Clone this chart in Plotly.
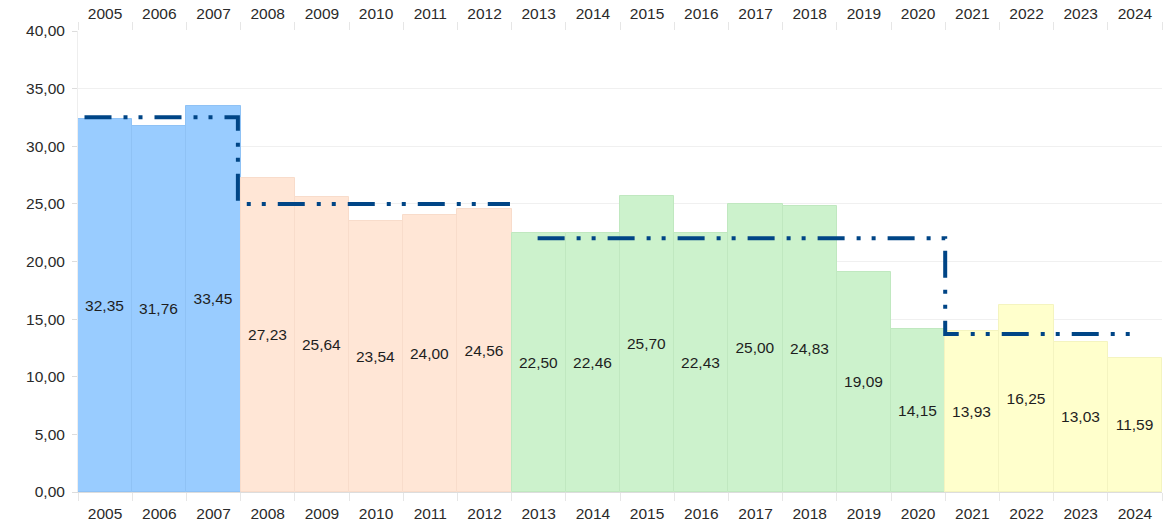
import plotly.graph_objects as go

years = [str(y) for y in range(2005, 2025)]
values = [32.35, 31.76, 33.45, 27.23, 25.64, 23.54, 24.00, 24.56,
          22.50, 22.46, 25.70, 22.43, 25.00, 24.83, 19.09, 14.15,
          13.93, 16.25, 13.03, 11.59]
# period groups (start index, end index inclusive) and colours
groups = [(0, 2), (3, 7), (8, 15), (16, 19)]
group_colors = ["#99ccff", "#ffe6d6", "#ccf2cc", "#ffffcc"]
group_edges = ["#8fc2f5", "#f8dccb", "#c0e8c0", "#f4f4c0"]

bar_colors, edge_colors = [], []
for (a, b), c, e in zip(groups, group_colors, group_edges):
    for _ in range(a, b + 1):
        bar_colors.append(c)
        edge_colors.append(e)

xs = list(range(len(years)))
labels = [f"{v:.2f}".replace(".", ",") for v in values]

FAM = "Liberation Sans, Arial, sans-serif"

fig = go.Figure()
fig.add_trace(go.Bar(
    x=xs, y=values, marker=dict(color=bar_colors, line=dict(color=edge_colors, width=1)),
    text=labels, textposition="inside", insidetextanchor="middle",
    textfont=dict(size=15.5, color="#1e1e1e", family=FAM),
    textangle=0, constraintext="none", hoverinfo="skip", showlegend=False,
))

means = []
for a, b in groups:
    seg = values[a:b + 1]
    means.append(sum(seg) / len(seg))

dash = "27px,12px,4px,11px,4px,12px"
line_style = dict(color="#004586", width=4, dash=dash)
# first two periods joined by a step
fig.add_trace(go.Scatter(
    x=[groups[0][0] - 0.38, groups[0][1] + 0.45, groups[0][1] + 0.45, groups[1][1] + 0.47],
    y=[means[0], means[0], means[1], means[1]],
    mode="lines", line=line_style, showlegend=False, hoverinfo="skip"))
# last two periods joined by a step
fig.add_trace(go.Scatter(
    x=[groups[2][0] - 0.02, groups[2][1] + 0.5, groups[2][1] + 0.5, groups[3][1] + 0.02],
    y=[means[2], means[2], means[3], means[3]],
    mode="lines", line=line_style, showlegend=False, hoverinfo="skip"))
# invisible trace for the top axis
fig.add_trace(go.Scatter(x=xs, y=values, xaxis="x2", mode="markers",
                         marker=dict(opacity=0), showlegend=False, hoverinfo="skip"))

font = dict(family=FAM, size=15.5, color="#2a2a2a")
xcommon = dict(
    range=[-0.5, len(years) - 0.5], tickmode="array", tickvals=xs, ticktext=years,
    showgrid=False, zeroline=False, tickfont=font, ticks="", automargin=False,
    minor=dict(tickmode="linear", tick0=-0.5, dtick=1, ticks="outside",
               ticklen=8, tickcolor="#e6e6e6", showgrid=False),
)
fig.update_layout(
    width=1164, height=526, separators=",.",
    margin=dict(l=78, r=2, t=31, b=34),
    plot_bgcolor="white", paper_bgcolor="white", bargap=0,
    font=font,
    xaxis=dict(**xcommon, side="bottom", showline=True, linecolor="#dddddd",
               ticklabelstandoff=7),
    xaxis2=dict(**xcommon, side="top", overlaying="x", matches="x", showline=False,
                ticklabelstandoff=8),
    yaxis=dict(range=[0, 40], dtick=5, tickformat=".2f", showgrid=True,
               gridcolor="#f0f0f0", zeroline=False, ticks="outside", ticklen=5,
               tickcolor="#dddddd", showline=True, linecolor="#eeeeee", tickfont=font,
               ticklabelstandoff=4, automargin=False),
)

fig.write_html("out.html", config={"displayModeBar": False},
               post_script="document.body.style.margin='0';document.body.style.overflow='hidden';")
